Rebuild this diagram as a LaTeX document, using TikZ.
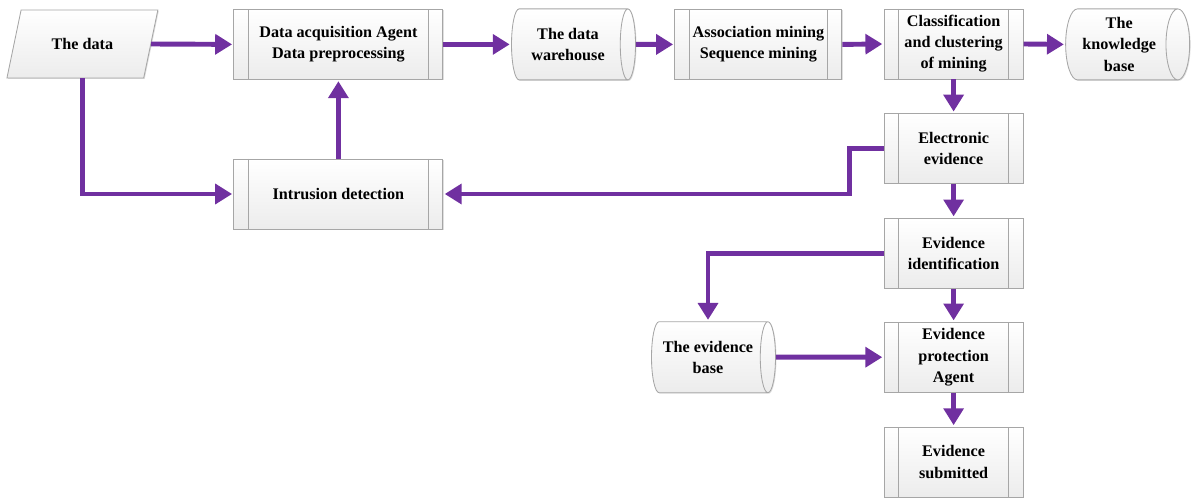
\documentclass[tikz,border=0pt]{standalone}
\usepackage{fontspec}
\setmainfont{Liberation Serif}
\usetikzlibrary{shapes.geometric,arrows.meta,shadows}

\definecolor{flowpurple}{HTML}{7030A0}
\definecolor{edgegray}{HTML}{A6A6A6}

\tikzset{
  base/.style={draw=edgegray, line width=0.6pt, top color=white, bottom color=gray!15,
    align=center, font=\fontsize{11.5}{15}\selectfont\bfseries, inner sep=2pt,
    drop shadow={shadow xshift=0.7pt, shadow yshift=-0.7pt, opacity=0.25}},
  process/.style={base, rectangle, minimum height=1.75cm,
    path picture={\draw[edgegray, line width=0.5pt]
      ([xshift=0.36cm]path picture bounding box.north west) -- ([xshift=0.36cm]path picture bounding box.south west)
      ([xshift=-0.36cm]path picture bounding box.north east) -- ([xshift=-0.36cm]path picture bounding box.south east);}},
  store/.style={base, cylinder, aspect=0.4, minimum width=1.775cm, minimum height=3.1cm},
  inputbox/.style={base, trapezium, trapezium left angle=65.5, trapezium right angle=114.5,
    trapezium stretches=true, minimum width=3.775cm, minimum height=1.7cm},
  flow/.style={line width=3.5pt, draw=flowpurple, -{Triangle[length=12pt,width=14pt]}, shorten >=1pt}
}

\begin{document}
\begin{tikzpicture}
\useasboundingbox (0,0) rectangle (29.825,-12.45);

% top row
\node[inputbox] (data) at (2.06,-1.1) {The data};
\node[process, minimum width=5.225cm] (acquire) at (8.46,-1.11) {Data acquisition Agent\\Data preprocessing};
\node[store] (warehouse) at (14.2,-1.11) {The data\\warehouse};
\node[process, minimum width=4.175cm] (assoc) at (18.96,-1.11) {Association mining\\Sequence mining};
\node[process, minimum width=3.475cm] (classify) at (23.84,-1.1) {Classification\\and clustering\\of mining};
\node[store] (knowledge) at (27.98,-1.11) {The\\knowledge\\base};

% middle
\node[process, minimum width=5.225cm] (intrusion) at (8.46,-4.85) {Intrusion detection};
\node[process, minimum width=3.475cm] (electronic) at (23.84,-3.71) {Electronic\\evidence};
\node[process, minimum width=3.475cm] (identify) at (23.84,-6.33) {Evidence\\identification};

% bottom
\node[store] (evbase) at (17.7,-8.93) {The evidence\\base};
\node[process, minimum width=3.475cm] (protect) at (23.84,-8.93) {Evidence\\protection\\Agent};
\node[process, minimum width=3.475cm] (submit) at (23.84,-11.55) {Evidence\\submitted};

% connectors
\draw[flow] (data.east) -- (acquire.west);
\draw[flow] (acquire.east) -- (warehouse.west);
\draw[flow] (warehouse.east) -- (assoc.west);
\draw[flow] (assoc.east) -- (classify.west);
\draw[flow] (classify.east) -- (knowledge.west);
\draw[flow] (classify.south) -- (electronic.north);
\draw[flow] (electronic.south) -- (identify.north);
\draw[flow] (identify.south) -- (protect.north);
\draw[flow] (protect.south) -- (submit.north);
\draw[flow] (data.south) |- (intrusion.west);
\draw[flow] (intrusion.north) -- (acquire.south);
\draw[flow] (electronic.west) -- ([xshift=-0.85cm]electronic.west) |- (intrusion.east);
\draw[flow] (identify.west) -| (evbase.north);
\draw[flow] (evbase.east) -- (protect.west);
\end{tikzpicture}
\end{document}
